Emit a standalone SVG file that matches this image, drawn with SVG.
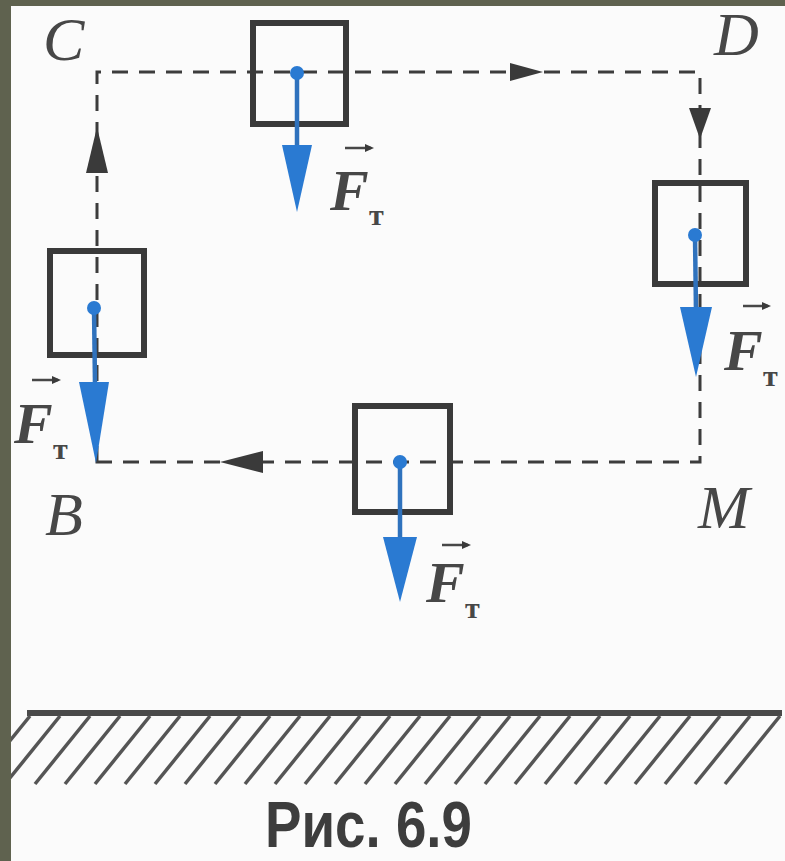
<svg xmlns="http://www.w3.org/2000/svg" width="785" height="861" viewBox="0 0 785 861">
<defs>
<style>
.path{fill:none;stroke:#3c3c3c;stroke-width:3;stroke-dasharray:16 11}
.box{fill:none;stroke:#3a3a3a;stroke-width:6}
.dir{fill:#3a3a3a}
.shaft{stroke:#2f72bd;stroke-width:4.5}
.blue{fill:#2a7ad2}
.pt{font-family:"Liberation Serif","DejaVu Serif",serif;font-style:italic;font-size:62px;fill:#474747}
.F{font-family:"Liberation Serif","DejaVu Serif",serif;font-style:italic;font-weight:bold;font-size:58px;fill:#474747}
.sub{font-family:"Liberation Serif","DejaVu Serif",serif;font-weight:bold;font-size:30px;fill:#474747}
.vec{stroke:#474747;stroke-width:2.5}
.hatch{stroke:#555;stroke-width:3.5}
</style>
</defs>
<rect x="0" y="0" width="785" height="861" fill="#fbfbfb"/>
<rect x="0" y="0" width="785" height="6" fill="#5f624f"/>
<rect x="0" y="0" width="11" height="861" fill="#5f624f"/>

<g id="connectors">
<path class="path" d="M97,462 L97,72 L700,72 L700,462 Z"/>
<polygon class="dir" points="97,127 86,173 108,173"/>
<polygon class="dir" points="543,72 510,63 510,81"/>
<polygon class="dir" points="700,139 689,108 711,108"/>
<polygon class="dir" points="220,462 263,451 263,473"/>
</g>

<g id="box-top">
<rect class="box" x="253" y="23" width="93" height="101"/>
<line class="shaft" x1="297" y1="73" x2="297" y2="150"/>
<circle class="blue" cx="297" cy="73" r="7"/>
<polygon class="blue" points="282,145 312,145 297,212"/>
<line class="vec" x1="345" y1="148" x2="371" y2="148"/>
<polygon class="dir" points="374,148 365,144 365,152"/>
<text class="F" x="330" y="210">F</text>
<text class="sub" x="369" y="225">т</text>
</g>

<g id="box-right">
<rect class="box" x="655" y="183" width="91" height="101"/>
<line class="shaft" x1="695" y1="235" x2="696" y2="312"/>
<circle class="blue" cx="695" cy="235" r="7"/>
<polygon class="blue" points="680,307 712,307 696,377"/>
<line class="vec" x1="743" y1="306" x2="768" y2="306"/>
<polygon class="dir" points="771,306 762,302 762,310"/>
<text class="F" x="724" y="370">F</text>
<text class="sub" x="763" y="386">т</text>
</g>

<g id="box-left">
<rect class="box" x="50" y="251" width="94" height="104"/>
<line class="shaft" x1="94" y1="308" x2="95" y2="385"/>
<circle class="blue" cx="94" cy="308" r="7"/>
<polygon class="blue" points="79,382 109,382 96,463"/>
<line class="vec" x1="32" y1="380" x2="58" y2="380"/>
<polygon class="dir" points="61,380 52,376 52,384"/>
<text class="F" x="14" y="443">F</text>
<text class="sub" x="53" y="459">т</text>
</g>

<g id="box-bottom">
<rect class="box" x="355" y="406" width="95" height="106"/>
<line class="shaft" x1="400" y1="462" x2="400" y2="540"/>
<circle class="blue" cx="400" cy="462" r="7"/>
<polygon class="blue" points="383,537 417,537 400,602"/>
<line class="vec" x1="442" y1="545" x2="468" y2="545"/>
<polygon class="dir" points="471,545 462,541 462,549"/>
<text class="F" x="426" y="602">F</text>
<text class="sub" x="465" y="618">т</text>
</g>

<g id="labels">
<text class="pt" x="43" y="60">C</text>
<text class="pt" x="714" y="55">D</text>
<text class="pt" x="45" y="535">B</text>
<text class="pt" x="698" y="528" font-size="64">M</text>
</g>

<g id="ground">
<line x1="27" y1="713" x2="782" y2="713" stroke="#4a4a4a" stroke-width="6"/>
<g class="hatch">
<line x1="30" y1="716" x2="-25" y2="784"/>
<line x1="60" y1="716" x2="5" y2="784"/>
<line x1="90" y1="716" x2="35" y2="784"/>
<line x1="120" y1="716" x2="65" y2="784"/>
<line x1="150" y1="716" x2="95" y2="784"/>
<line x1="180" y1="716" x2="125" y2="784"/>
<line x1="210" y1="716" x2="155" y2="784"/>
<line x1="240" y1="716" x2="185" y2="784"/>
<line x1="270" y1="716" x2="215" y2="784"/>
<line x1="300" y1="716" x2="245" y2="784"/>
<line x1="330" y1="716" x2="275" y2="784"/>
<line x1="360" y1="716" x2="305" y2="784"/>
<line x1="390" y1="716" x2="335" y2="784"/>
<line x1="420" y1="716" x2="365" y2="784"/>
<line x1="450" y1="716" x2="395" y2="784"/>
<line x1="480" y1="716" x2="425" y2="784"/>
<line x1="510" y1="716" x2="455" y2="784"/>
<line x1="540" y1="716" x2="485" y2="784"/>
<line x1="570" y1="716" x2="515" y2="784"/>
<line x1="600" y1="716" x2="545" y2="784"/>
<line x1="630" y1="716" x2="575" y2="784"/>
<line x1="660" y1="716" x2="605" y2="784"/>
<line x1="690" y1="716" x2="635" y2="784"/>
<line x1="720" y1="716" x2="665" y2="784"/>
<line x1="750" y1="716" x2="695" y2="784"/>
<line x1="780" y1="716" x2="725" y2="784"/>
</g>
<rect x="0" y="700" width="11" height="100" fill="#5f624f"/>
</g>

<text x="265" y="847" font-family="Liberation Sans, Arial, sans-serif" font-weight="bold" font-size="64" fill="#3d3d3d" textLength="207" lengthAdjust="spacingAndGlyphs">Рис. 6.9</text>
</svg>
